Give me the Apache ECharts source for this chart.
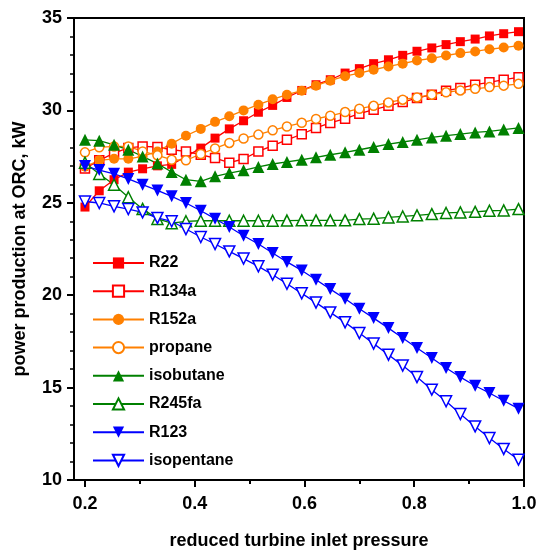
<!DOCTYPE html>
<html>
<head>
<meta charset="utf-8">
<script src="https://cdn.jsdelivr.net/npm/echarts@6/dist/echarts.min.js"></script>
<style>
  html, body { margin: 0; padding: 0; background: #fff; }
  #chart { width: 539px; height: 553px; }
</style>
</head>
<body>
<div id="chart"></div>
<script>
// reduced turbine inlet pressure
var pressure = [0.200, 0.226, 0.253, 0.279, 0.305, 0.332, 0.358, 0.384, 0.411, 0.437,
                0.463, 0.489, 0.516, 0.542, 0.568, 0.595, 0.621, 0.647, 0.674, 0.700,
                0.726, 0.753, 0.779, 0.805, 0.832, 0.858, 0.884, 0.911, 0.937, 0.963, 0.990];

// power production at ORC, kW
var r22 = [24.77, 25.65, 26.25, 26.66, 26.84, 27.0, 27.08, 27.5, 27.96, 28.5,
           29.0, 29.44, 29.9, 30.27, 30.7, 31.08, 31.39, 31.66, 32.02, 32.26,
           32.53, 32.74, 32.98, 33.2, 33.38, 33.56, 33.72, 33.86, 34.03, 34.15, 34.26];
var r134a = [26.85, 27.3, 27.69, 27.97, 28.05, 28.02, 27.87, 27.78, 27.6, 27.42,
             27.17, 27.37, 27.78, 28.09, 28.41, 28.71, 29.05, 29.32, 29.55, 29.82,
             30.04, 30.25, 30.45, 30.67, 30.85, 31.07, 31.21, 31.39, 31.52, 31.66, 31.79];
var r152a = [26.95, 27.3, 27.38, 27.38, 27.51, 27.78, 28.2, 28.63, 29.0, 29.38,
             29.68, 30.0, 30.31, 30.6, 30.85, 31.07, 31.34, 31.61, 31.85, 32.02,
             32.2, 32.38, 32.53, 32.7, 32.82, 32.97, 33.1, 33.19, 33.31, 33.4, 33.5];
var propane = [27.73, 28.0, 28.05, 28.05, 27.78, 27.57, 27.33, 27.3, 27.64, 27.94,
               28.24, 28.48, 28.69, 28.92, 29.13, 29.33, 29.54, 29.71, 29.91, 30.09,
               30.25, 30.43, 30.58, 30.7, 30.85, 30.98, 31.08, 31.17, 31.26, 31.34, 31.44];
var isobutane = [28.41, 28.36, 28.14, 27.87, 27.51, 27.12, 26.67, 26.25, 26.16, 26.43,
                 26.61, 26.76, 26.94, 27.1, 27.21, 27.33, 27.46, 27.6, 27.73, 27.87,
                 28.02, 28.18, 28.29, 28.41, 28.54, 28.63, 28.72, 28.81, 28.86, 28.96, 29.05];
var r245fa = [27.17, 26.56, 25.98, 25.3, 24.67, 24.13, 23.9, 24.0, 24.03, 24.03,
              24.03, 24.03, 24.03, 24.03, 24.04, 24.05, 24.05, 24.05, 24.05, 24.12,
              24.14, 24.21, 24.26, 24.32, 24.39, 24.45, 24.48, 24.51, 24.57, 24.59, 24.66];
var r123 = [26.99, 26.77, 26.57, 26.29, 25.98, 25.67, 25.35, 24.99, 24.57, 24.14,
            23.69, 23.22, 22.77, 22.28, 21.8, 21.34, 20.84, 20.33, 19.81, 19.27,
            18.76, 18.22, 17.68, 17.14, 16.6, 16.06, 15.57, 15.1, 14.71, 14.29, 13.86];
var isopentane = [25.07, 24.99, 24.81, 24.66, 24.48, 24.18, 24.0, 23.58, 23.15, 22.77,
                  22.37, 21.98, 21.56, 21.11, 20.62, 20.1, 19.6, 19.07, 18.53, 17.95,
                  17.38, 16.78, 16.19, 15.57, 14.89, 14.26, 13.57, 12.9, 12.27, 11.68, 11.1];

var xMajorTicks = [0.2, 0.4, 0.6, 0.8, 1.0];
var xMinorTicks = [0.3, 0.5, 0.7, 0.9];

var font = "'Liberation Sans', Arial, sans-serif";

function pairs(ys) {
  return pressure.map(function (x, i) { return [x, ys[i]]; });
}

// name, values, colour, symbol, open marker, size, rotate
function makeSeries(name, ys, color, symbol, open, size, rotate) {
  return {
    name: name,
    type: 'line',
    data: pairs(ys),
    symbol: symbol,
    symbolSize: size,
    symbolRotate: rotate || 0,
    showAllSymbol: true,
    color: color,
    lineStyle: { color: color, width: 1.3 },
    itemStyle: open ? { color: '#fff', borderColor: color, borderWidth: 1.5 }
                    : { color: color, borderWidth: 0 },
    emphasis: { disabled: true },
    animation: false
  };
}

var chart = echarts.init(document.getElementById('chart'));
chart.setOption({
  backgroundColor: '#fff',
  animation: false,
  grid: {
    left: 74, right: 15, top: 18, bottom: 73,
    outerBoundsMode: 'none',
    show: true, borderColor: '#000', borderWidth: 2, backgroundColor: 'transparent'
  },
  legend: {
    orient: 'vertical',
    left: 87,
    top: 250,
    itemWidth: 51,
    itemHeight: 14,
    itemGap: 12.2,
    textStyle: { fontFamily: font, fontWeight: 'bold', fontSize: 16, color: '#000' },
    data: ['R22', 'R134a', 'R152a', 'propane', 'isobutane', 'R245fa', 'R123', 'isopentane']
  },
  xAxis: [
    {
      type: 'value',
      min: 0.18,
      max: 1.0,
      splitLine: { show: false },
      axisLine: { onZero: false, lineStyle: { color: '#000', width: 2 } },
      axisTick: { customValues: xMajorTicks, length: 7, lineStyle: { width: 2, color: '#000' } },
      axisLabel: {
        customValues: xMajorTicks,
        margin: 15,
        fontFamily: font, fontWeight: 'bold', fontSize: 18, color: '#000',
        formatter: function (v) { return v.toFixed(1); }
      },
      name: 'reduced turbine inlet pressure',
      nameLocation: 'middle',
      nameGap: 52,
      nameTextStyle: { fontFamily: font, fontWeight: 'bold', fontSize: 18, color: '#000' }
    },
    {
      type: 'value',
      min: 0.18,
      max: 1.0,
      position: 'bottom',
      splitLine: { show: false },
      axisLine: { show: false },
      axisTick: { customValues: xMinorTicks, length: 4, lineStyle: { width: 2, color: '#000' } },
      axisLabel: { show: false }
    }
  ],
  yAxis: {
    type: 'value',
    min: 10,
    max: 35,
    interval: 5,
    splitLine: { show: false },
    axisLine: { onZero: false, lineStyle: { color: '#000', width: 2 } },
    axisTick: { length: 7, lineStyle: { width: 2, color: '#000' } },
    minorTick: { show: true, splitNumber: 5, length: 4, lineStyle: { width: 1.5, color: '#000' } },
    axisLabel: { margin: 12, fontFamily: font, fontWeight: 'bold', fontSize: 18, color: '#000' },
    name: 'power production at ORC, kW',
    nameLocation: 'middle',
    nameGap: 45,
    nameTextStyle: { fontFamily: font, fontWeight: 'bold', fontSize: 18, color: '#000' }
  },
  series: [
    makeSeries('R22', r22, '#ff0000', 'rect', false, 9),
    makeSeries('R134a', r134a, '#ff0000', 'rect', true, 9),
    makeSeries('R152a', r152a, '#ff8000', 'circle', false, 10),
    makeSeries('propane', propane, '#ff8000', 'circle', true, 9),
    makeSeries('isobutane', isobutane, '#008000', 'triangle', false, 12),
    makeSeries('R245fa', r245fa, '#008000', 'triangle', true, 11),
    makeSeries('R123', r123, '#0000ff', 'triangle', false, 12, 180),
    makeSeries('isopentane', isopentane, '#0000ff', 'triangle', true, 11, 180)
  ]
});
</script>
</body>
</html>
